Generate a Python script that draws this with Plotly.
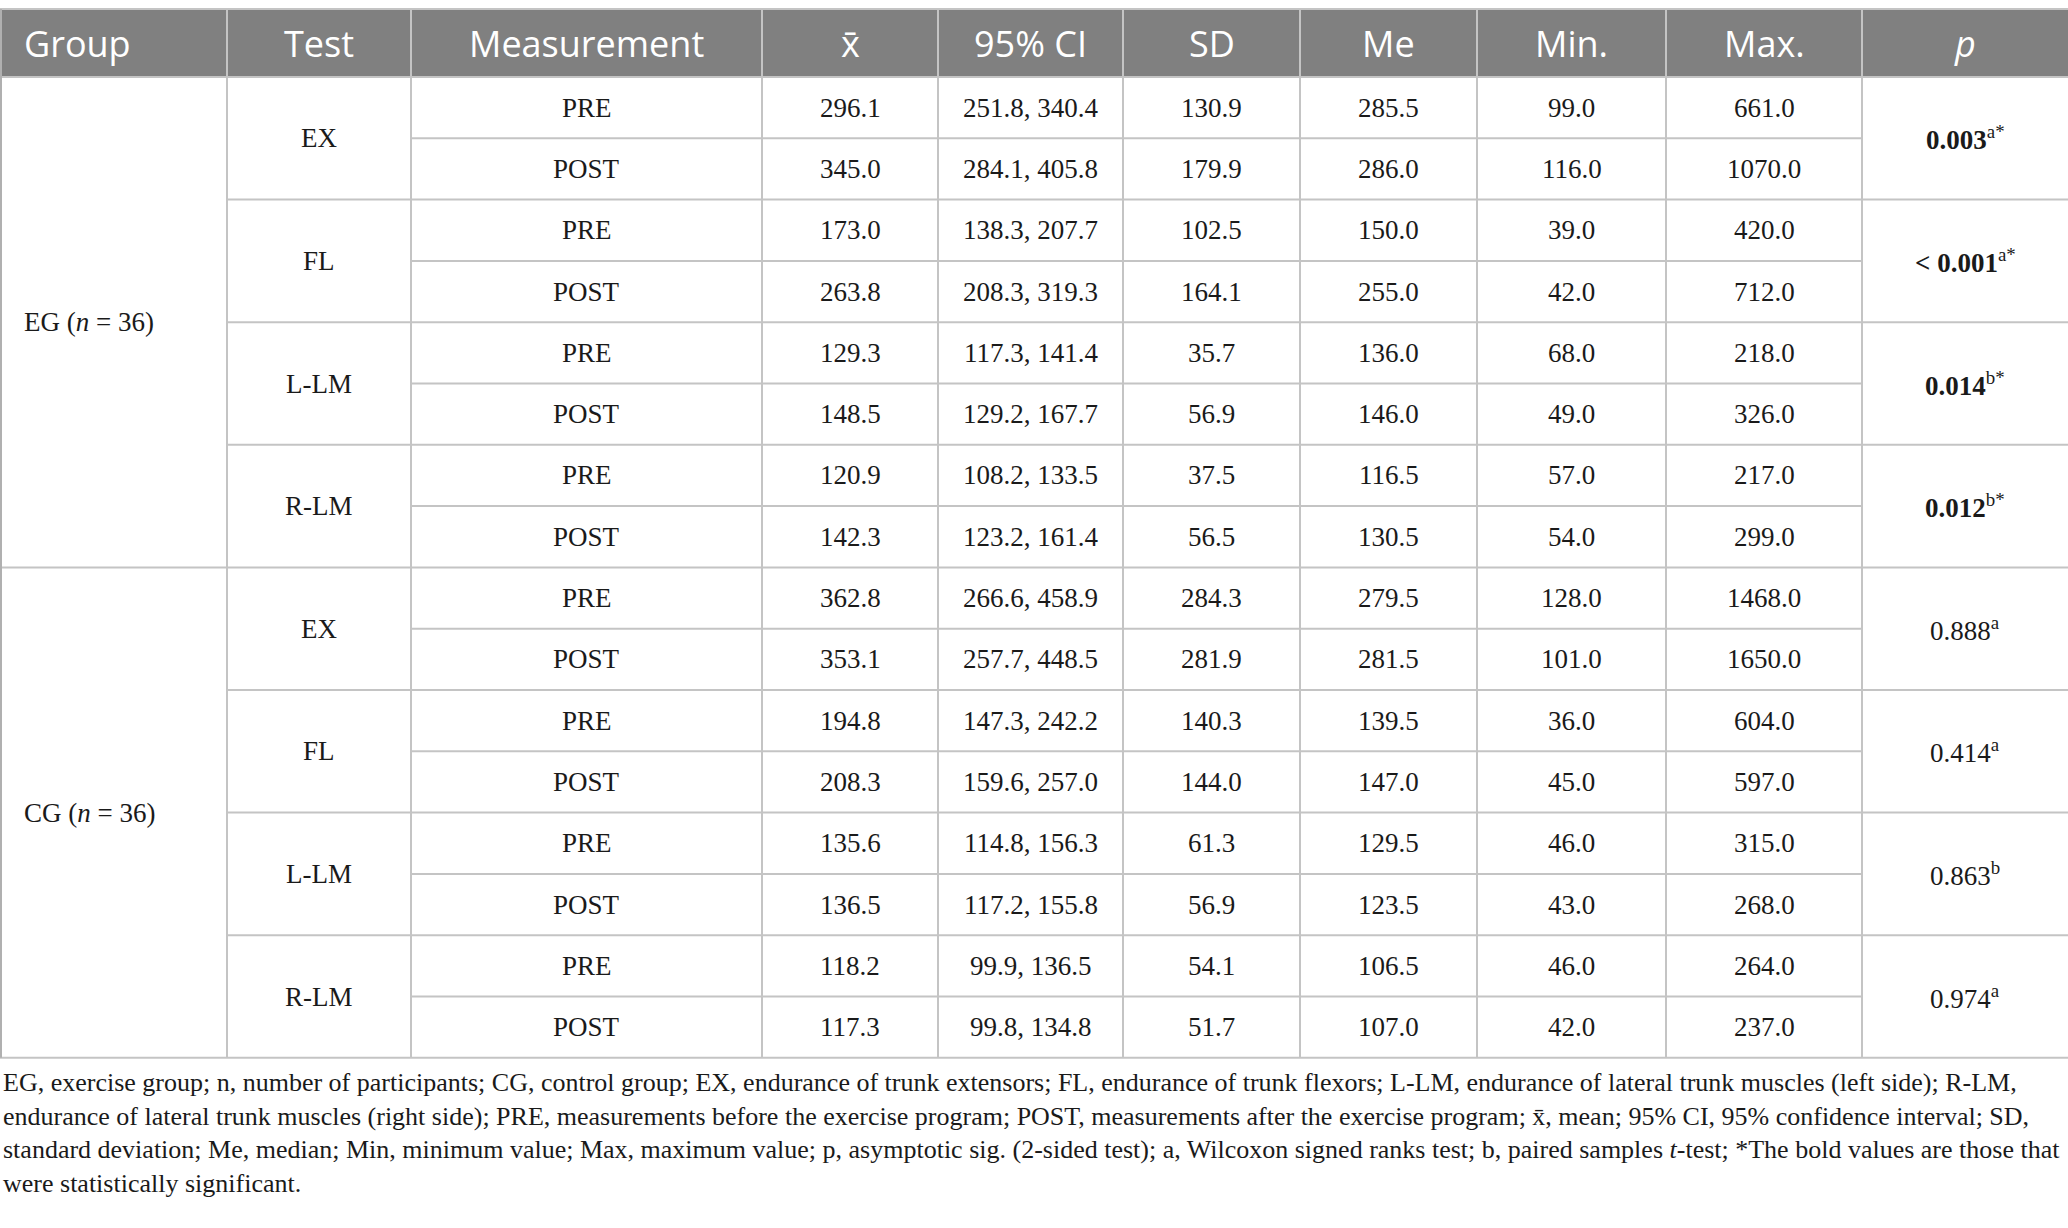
import plotly.graph_objects as go

# Table contents
headers = ["Group", "Test", "Measurement", "x̄", "95% CI", "SD", "Me", "Min.", "Max.", "<i>p</i>"]
groups = ["EG (<i>n</i> = 36)", "CG (<i>n</i> = 36)"]
tests = ["EX", "FL", "L-LM", "R-LM"]
measurements = ["PRE", "POST"]

mean = ["296.1", "345.0", "173.0", "263.8", "129.3", "148.5", "120.9", "142.3",
        "362.8", "353.1", "194.8", "208.3", "135.6", "136.5", "118.2", "117.3"]
ci95 = ["251.8, 340.4", "284.1, 405.8", "138.3, 207.7", "208.3, 319.3",
        "117.3, 141.4", "129.2, 167.7", "108.2, 133.5", "123.2, 161.4",
        "266.6, 458.9", "257.7, 448.5", "147.3, 242.2", "159.6, 257.0",
        "114.8, 156.3", "117.2, 155.8", "99.9, 136.5", "99.8, 134.8"]
sd = ["130.9", "179.9", "102.5", "164.1", "35.7", "56.9", "37.5", "56.5",
      "284.3", "281.9", "140.3", "144.0", "61.3", "56.9", "54.1", "51.7"]
median = ["285.5", "286.0", "150.0", "255.0", "136.0", "146.0", "116.5", "130.5",
          "279.5", "281.5", "139.5", "147.0", "129.5", "123.5", "106.5", "107.0"]
minimum = ["99.0", "116.0", "39.0", "42.0", "68.0", "49.0", "57.0", "54.0",
           "128.0", "101.0", "36.0", "45.0", "46.0", "43.0", "46.0", "42.0"]
maximum = ["661.0", "1070.0", "420.0", "712.0", "218.0", "326.0", "217.0", "299.0",
           "1468.0", "1650.0", "604.0", "597.0", "315.0", "268.0", "264.0", "237.0"]
p_values = ["0.003", "< 0.001", "0.014", "0.012", "0.888", "0.414", "0.863", "0.974"]
p_tests = ["a", "a", "b", "b", "a", "a", "b", "a"]
p_significant = [True, True, True, True, False, False, False, False]

footnote = [
    "EG, exercise group; n, number of participants; CG, control group; EX, endurance of trunk extensors; "
    "FL, endurance of trunk flexors; L-LM, endurance of lateral trunk muscles (left side); R-LM,",
    "endurance of lateral trunk muscles (right side); PRE, measurements before the exercise program; "
    "POST, measurements after the exercise program; x̄, mean; 95% CI, 95% confidence interval; SD,",
    "standard deviation; Me, median; Min, minimum value; Max, maximum value; p, asymptotic sig. (2-sided test); "
    "a, Wilcoxon signed ranks test; b, paired samples <i>t</i>-test; *The bold values are those that",
    "were statistically significant.",
]

# Layout geometry (pixels)
W, H = 2068, 1228
col_edges = [0, 227, 411, 762, 938, 1123, 1300, 1477, 1666, 1862, 2068]
top, head_bottom, row_h = 9, 77, 61.3
n_rows = len(mean)
table_bottom = head_bottom + n_rows * row_h
line_col = "#c4c4c4"
head_bg = "#808080"
body_font = dict(family="Liberation Serif, Times New Roman, serif", size=27, color="#1a1a1a")
head_font = dict(family="Open Sans, sans-serif", size=36, color="white")

fig = go.Figure()
shapes = []
annotations = []


def row_y(i):
    return head_bottom + i * row_h


def cell_text(x0, x1, y0, y1, text, align="center", font=body_font, pad=22):
    if align == "left":
        annotations.append(dict(x=x0 + pad, y=(y0 + y1) / 2, text=text, xanchor="left",
                                yanchor="middle", showarrow=False, font=font))
    else:
        annotations.append(dict(x=(x0 + x1) / 2, y=(y0 + y1) / 2, text=text, xanchor="center",
                                yanchor="middle", showarrow=False, font=font))


# header background
shapes.append(dict(type="rect", x0=0, x1=W, y0=top, y1=head_bottom, fillcolor=head_bg,
                   line=dict(width=0), layer="below"))
for j, h in enumerate(headers):
    cell_text(col_edges[j], col_edges[j + 1], top, head_bottom, h,
              align="left" if j == 0 else "center", font=head_font)

# horizontal lines
shapes.append(dict(type="line", x0=0, x1=W, y0=top, y1=top, line=dict(color=line_col, width=2)))
shapes.append(dict(type="line", x0=0, x1=W, y0=head_bottom, y1=head_bottom,
                   line=dict(color=line_col, width=2)))
for i in range(1, n_rows + 1):
    y = row_y(i)
    if i % 8 == 0:
        x_start = 0
    elif i % 2 == 0:
        x_start = col_edges[1]
    else:
        x_start = col_edges[2]
    x_end = W if i % 2 == 0 else col_edges[9]
    shapes.append(dict(type="line", x0=x_start, x1=x_end, y0=y, y1=y,
                       line=dict(color=line_col, width=2)))

# vertical lines
for x in col_edges[:-1]:
    shapes.append(dict(type="line", x0=max(x, 1), x1=max(x, 1), y0=top, y1=table_bottom,
                       line=dict(color=line_col if x else "#b0b0b0", width=2)))

# group cells
for g, name in enumerate(groups):
    cell_text(col_edges[0], col_edges[1], row_y(g * 8), row_y(g * 8 + 8), name, align="left")

# test cells and p values
for k in range(len(p_values)):
    y0, y1 = row_y(2 * k), row_y(2 * k + 2)
    cell_text(col_edges[1], col_edges[2], y0, y1, tests[k % 4])
    if p_significant[k]:
        ptxt = f"<b>{p_values[k]}</b><sup>{p_tests[k]}*</sup>"
    else:
        ptxt = f"{p_values[k]}<sup>{p_tests[k]}</sup>"
    cell_text(col_edges[9], col_edges[10], y0, y1, ptxt)

# measurement rows
columns = [mean, ci95, sd, median, minimum, maximum]
for i in range(n_rows):
    y0, y1 = row_y(i), row_y(i + 1)
    cell_text(col_edges[2], col_edges[3], y0, y1, measurements[i % 2])
    for j, col in enumerate(columns):
        cell_text(col_edges[3 + j], col_edges[4 + j], y0, y1, col[i])

# footnote
foot_font = dict(family="Liberation Serif, Times New Roman, serif", size=26, color="#1a1a1a")
for n, line in enumerate(footnote):
    annotations.append(dict(x=1, y=table_bottom + 25 + n * 33.5, text=line, xanchor="left",
                            yanchor="middle", showarrow=False, font=foot_font))

fig.update_layout(
    width=W, height=H,
    margin=dict(l=0, r=0, t=0, b=0),
    xaxis=dict(range=[0, W], visible=False, fixedrange=True),
    yaxis=dict(range=[H, 0], visible=False, fixedrange=True),
    plot_bgcolor="white", paper_bgcolor="white",
    shapes=shapes, annotations=annotations, showlegend=False,
)

fig.write_html("out.html", config={"displayModeBar": False},
               post_script="document.body.style.margin='0';")
